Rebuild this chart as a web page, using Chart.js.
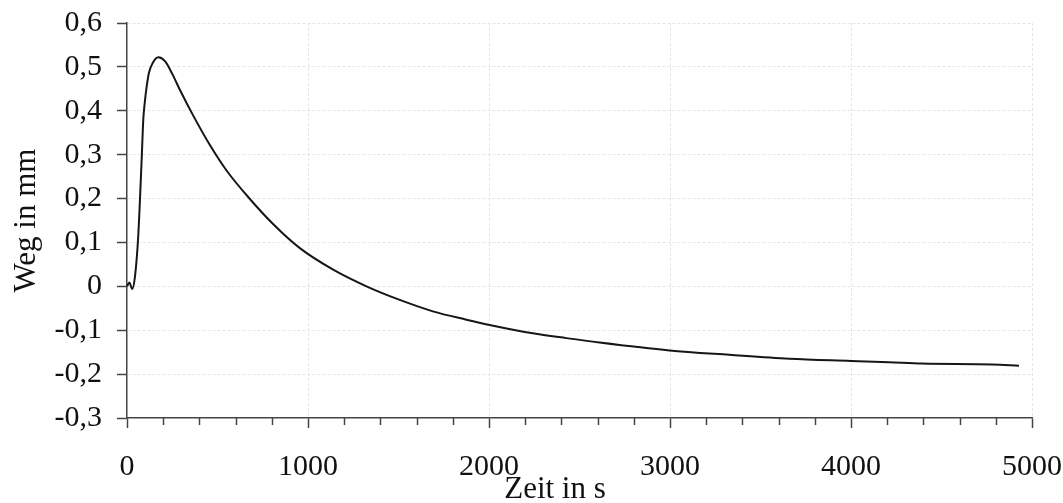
<!DOCTYPE html>
<html>
<head>
<meta charset="utf-8">
<script src="https://cdn.jsdelivr.net/npm/chart.js@4"></script>
<style>
  html, body { margin: 0; padding: 0; background: #fff; }
  #wrap { width: 1063px; height: 503px; }
</style>
</head>
<body>
<div id="wrap"><canvas id="grafico" width="1063" height="503"></canvas></div>
<script>
// Zeit in s / Weg in mm
const zeit = [0, 13, 29, 44, 62, 81, 90, 98, 109, 121, 142, 173, 210, 250, 292, 366, 458, 550, 679, 807, 955,
  1139, 1323, 1507, 1690, 1875, 2003, 2242, 2427, 2610, 2997, 3328, 3659, 4000, 4211, 4395, 4781, 4928];
const weg = [0, 0.009, -0.006, 0.022, 0.114, 0.289, 0.380, 0.418, 0.456, 0.486, 0.509, 0.522, 0.513, 0.484, 0.448, 0.389, 0.322, 0.264, 0.199, 0.142, 0.087,
  0.038, 0.0, -0.031, -0.057, -0.076, -0.088, -0.107, -0.118, -0.128, -0.146, -0.156, -0.165, -0.170, -0.173, -0.176, -0.178, -0.181];

const yMin = -0.3, yMax = 0.6, yStep = 0.1;
const xMin = 0, xMax = 5000, xStep = 200, xMajor = 1000;

const schrift = 'Liberation Serif';
const gitterFarbe = '#e6e6e6';
const achsenFarbe = '#444';

const punkte = zeit.map((t, i) => ({ x: t, y: weg[i] }));

// kleine Striche auf der x-Achse (alle 200 s), kürzer als die Hauptstriche
const nebenStriche = {
  id: 'nebenStriche',
  afterDraw(chart) {
    const sx = chart.scales.x;
    const ctx = chart.ctx;
    ctx.save();
    ctx.strokeStyle = achsenFarbe;
    ctx.lineWidth = 1.5;
    for (let v = xMin; v <= xMax; v += xStep) {
      if (v % xMajor === 0) continue;
      const px = Math.round(sx.getPixelForValue(v)) + 0.5;
      ctx.beginPath();
      ctx.moveTo(px, sx.top);
      ctx.lineTo(px, sx.top + 7);
      ctx.stroke();
    }
    // Achsentitel x
    ctx.fillStyle = '#111';
    ctx.font = '31px "' + schrift + '"';
    ctx.textAlign = 'center';
    ctx.textBaseline = 'middle';
    ctx.fillText('Zeit in s', 555, 490);
    ctx.restore();
  }
};

new Chart(document.getElementById('grafico'), {
  type: 'line',
  data: {
    datasets: [{
      data: punkte,
      borderColor: '#161616',
      borderWidth: 2,
      pointRadius: 0,
      fill: false,
      cubicInterpolationMode: 'monotone'
    }]
  },
  options: {
    responsive: false,
    animation: false,
    layout: { padding: { top: 23, right: 31, left: 0, bottom: 0 } },
    plugins: { legend: { display: false }, tooltip: { enabled: false } },
    scales: {
      x: {
        type: 'linear',
        min: xMin, max: xMax,
        afterFit: s => { s.height = 85; s.paddingLeft = 0; s.paddingRight = 0; },
        ticks: {
          stepSize: xStep,
          autoSkip: false,
          maxRotation: 0,
          padding: 21,
          color: '#111',
          font: { family: schrift, size: 30 },
          callback: v => (v % xMajor === 0 ? String(v) : '')
        },
        grid: {
          color: c => (c.tick && c.tick.value % xMajor === 0 && c.tick.value !== 0 ? gitterFarbe : 'transparent'),
          tickColor: c => (c.tick && c.tick.value % xMajor === 0 ? achsenFarbe : 'transparent'),
          tickLength: 10,
          tickWidth: 1.5,
          lineWidth: 1
        },
        border: { color: achsenFarbe, width: 1.5, dash: [3, 2] }
      },
      y: {
        min: yMin, max: yMax,
        afterFit: s => { s.width = 127; s.paddingTop = 0; s.paddingBottom = 0; },
        ticks: {
          stepSize: yStep,
          padding: 15,
          color: '#111',
          font: { family: schrift, size: 30 },
          callback: v => {
            const r = Math.round(v * 10) / 10;
            return r === 0 ? '0' : r.toFixed(1).replace('.', ',');
          }
        },
        grid: {
          color: c => (c.tick && Math.abs(c.tick.value - yMin) > 1e-9 ? gitterFarbe : 'transparent'),
          tickColor: achsenFarbe,
          tickLength: 10,
          tickWidth: 1.5,
          lineWidth: 1
        },
        border: { color: achsenFarbe, width: 1.5, dash: [3, 2] },
        title: {
          display: true,
          text: 'Weg in mm',
          color: '#111',
          font: { family: schrift, size: 31, lineHeight: 1 },
          padding: { top: 11, bottom: 0 }
        }
      }
    }
  },
  plugins: [nebenStriche]
});
</script>
</body>
</html>
